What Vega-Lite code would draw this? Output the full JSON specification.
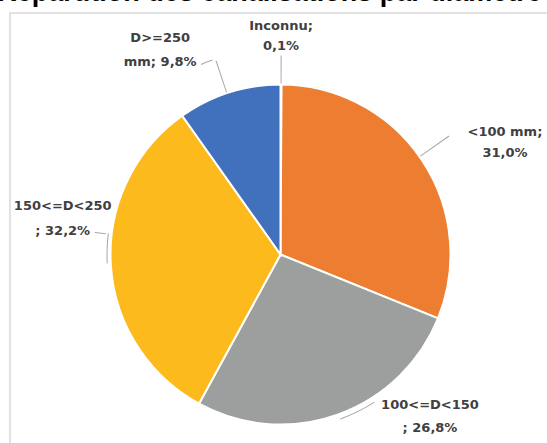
{
  "$schema": "https://vega.github.io/schema/vega-lite/v6.json",
  "autosize": {"type": "none"},
  "padding": {"left": 10, "top": 13, "right": 0, "bottom": 0},
  "width": 541,
  "height": 483,
  "background": "white",
  "view": {"stroke": "#d9d9d9", "strokeWidth": 1.5},
  "title": {
    "text": "Répartition des canalisations par diamètre",
    "font": "Liberation Sans",
    "fontSize": 27,
    "fontWeight": "bold",
    "color": "#000000",
    "anchor": "middle",
    "frame": "group",
    "baseline": "alphabetic",
    "offset": -15,
    "dx": -11
  },
  "data": {
    "values": [
      {"rang": 1, "cat": "Inconnu", "pct": 0.1, "label": "Inconnu;\n0,1%"},
      {"rang": 2, "cat": "<100 mm", "pct": 31.0, "label": "<100 mm;\n31,0%"},
      {"rang": 3, "cat": "100<=D<150", "pct": 26.8, "label": "100<=D<150\n; 26,8%"},
      {"rang": 4, "cat": "150<=D<250", "pct": 32.2, "label": "150<=D<250\n; 32,2%"},
      {"rang": 5, "cat": "D>=250 mm", "pct": 9.8, "label": "D>=250\nmm; 9,8%"}
    ]
  },
  "transform": [
    {"stack": "pct", "groupby": [], "sort": [{"field": "rang", "order": "ascending"}], "as": ["t0", "t1"]}
  ],
  "layer": [
    {
      "mark": {"type": "arc", "outerRadius": 170, "stroke": "white", "strokeWidth": 2},
      "encoding": {
        "theta": {"field": "t1", "type": "quantitative", "stack": null},
        "theta2": {"field": "t0"},
        "color": {
          "field": "cat",
          "type": "nominal",
          "scale": {
            "domain": ["Inconnu", "<100 mm", "100<=D<150", "150<=D<250", "D>=250 mm"],
            "range": ["#5B9BD5", "#ED7D31", "#9D9F9F", "#FDBA1D", "#4170BD"]
          },
          "legend": null
        }
      }
    },
    {
      "transform": [{"filter": "datum.cat === 'Inconnu'"}],
      "layer": [
        {"mark": {"type": "arc", "innerRadius": 171, "outerRadius": 199, "thetaOffset": 0.0005, "theta2Offset": 0.0058, "fill": "#a6a6a6"},
         "encoding": {"theta": {"field": "t0", "type": "quantitative", "stack": null}, "theta2": {"field": "t0"}}},
        {"mark": {"type": "text", "radius": 218.5, "thetaOffset": 0.0023, "dy": -10, "font": "DejaVu Sans", "fontSize": 13, "fontWeight": "bold", "fill": "#404040", "lineBreak": "\n", "lineHeight": 20, "baseline": "middle", "align": "center"},
         "encoding": {"theta": {"field": "t0", "type": "quantitative", "stack": null}, "text": {"field": "label"}}}
      ]
    },
    {
      "transform": [{"filter": "datum.cat === '<100 mm'"}],
      "layer": [
        {"mark": {"type": "arc", "innerRadius": 171, "outerRadius": 206, "thetaOffset": 0.9493, "theta2Offset": 0.9545, "fill": "#a6a6a6"},
         "encoding": {"theta": {"field": "t0", "type": "quantitative", "stack": null}, "theta2": {"field": "t0"}}},
        {"mark": {"type": "text", "radius": 251, "thetaOffset": 1.1003, "dy": -10.5, "font": "DejaVu Sans", "fontSize": 13, "fontWeight": "bold", "fill": "#404040", "lineBreak": "\n", "lineHeight": 21, "baseline": "middle", "align": "center"},
         "encoding": {"theta": {"field": "t0", "type": "quantitative", "stack": null}, "text": {"field": "label"}}}
      ]
    },
    {
      "transform": [{"filter": "datum.cat === '100<=D<150'"}],
      "layer": [
        {"mark": {"type": "arc", "innerRadius": 174.5, "outerRadius": 175.5, "thetaOffset": 0.6183, "theta2Offset": 0.8365, "fill": "#a6a6a6"},
         "encoding": {"theta": {"field": "t0", "type": "quantitative", "stack": null}, "theta2": {"field": "t0"}}},
        {"mark": {"type": "text", "radius": 220, "thetaOffset": 0.4386, "dy": -11, "font": "DejaVu Sans", "fontSize": 13, "fontWeight": "bold", "fill": "#404040", "lineBreak": "\n", "lineHeight": 23, "baseline": "middle", "align": "center"},
         "encoding": {"theta": {"field": "t0", "type": "quantitative", "stack": null}, "text": {"field": "label"}}}
      ]
    },
    {
      "transform": [{"filter": "datum.cat === '150<=D<250'"}],
      "layer": [
        {"mark": {"type": "arc", "innerRadius": 173, "outerRadius": 174, "thetaOffset": 1.0184, "theta2Offset": 1.1929, "fill": "#a6a6a6"},
         "encoding": {"theta": {"field": "t0", "type": "quantitative", "stack": null}, "theta2": {"field": "t0"}}},
        {"mark": {"type": "arc", "innerRadius": 176, "outerRadius": 187, "thetaOffset": 1.186, "theta2Offset": 1.1912, "fill": "#a6a6a6"},
         "encoding": {"theta": {"field": "t0", "type": "quantitative", "stack": null}, "theta2": {"field": "t0"}}},
        {"mark": {"type": "text", "radius": 221, "thetaOffset": 1.2418, "dy": -11, "font": "DejaVu Sans", "fontSize": 13, "fontWeight": "bold", "fill": "#404040", "lineBreak": "\n", "lineHeight": 25, "baseline": "middle", "align": "center"},
         "encoding": {"theta": {"field": "t0", "type": "quantitative", "stack": null}, "text": {"field": "label"}}}
      ]
    },
    {
      "transform": [{"filter": "datum.cat === 'D>=250 mm'"}],
      "layer": [
        {"mark": {"type": "arc", "innerRadius": 171, "outerRadius": 204, "thetaOffset": 0.2926, "theta2Offset": 0.2978, "fill": "#a6a6a6"},
         "encoding": {"theta": {"field": "t0", "type": "quantitative", "stack": null}, "theta2": {"field": "t0"}}},
        {"mark": {"type": "arc", "innerRadius": 205.5, "outerRadius": 206.5, "thetaOffset": 0.2202, "theta2Offset": 0.2795, "fill": "#a6a6a6"},
         "encoding": {"theta": {"field": "t0", "type": "quantitative", "stack": null}, "theta2": {"field": "t0"}}},
        {"mark": {"type": "text", "radius": 237, "thetaOffset": 0.084, "dy": -12, "font": "DejaVu Sans", "fontSize": 13, "fontWeight": "bold", "fill": "#404040", "lineBreak": "\n", "lineHeight": 24, "baseline": "middle", "align": "center"},
         "encoding": {"theta": {"field": "t0", "type": "quantitative", "stack": null}, "text": {"field": "label"}}}
      ]
    }
  ]
}
